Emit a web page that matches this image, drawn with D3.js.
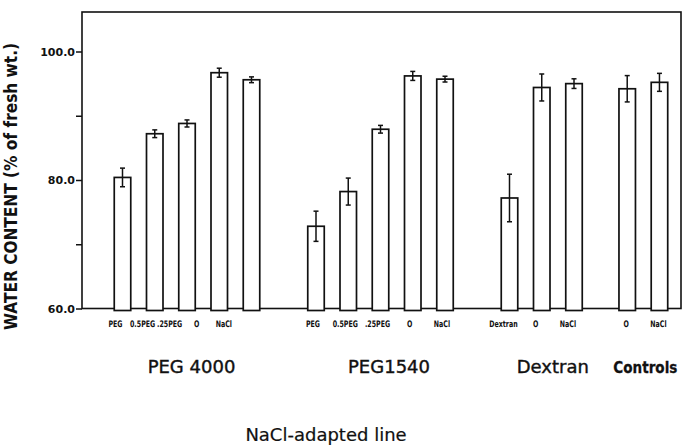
<!DOCTYPE html>
<html>
<head>
<meta charset="utf-8">
<script src="https://cdn.jsdelivr.net/npm/d3@7"></script>
<style>
  body { margin: 0; background: #fff; }
  svg { display: block; }
  text { fill: #111; }
</style>
</head>
<body>
<div id="graph"></div>
<script>
const w = 682;
const h = 445;

// values (water content, % of fresh wt.)
const groups = ["PEG 4000", "PEG1540", "Dextran", "Controls"];
const treatments = ["PEG", "0.5PEG", ".25PEG", "O", "NaCl",
                    "PEG", "0.5PEG", ".25PEG", "O", "NaCl",
                    "Dextran", "O", "NaCl",
                    "O", "NaCl"];
const groupOf = [0, 0, 0, 0, 0, 1, 1, 1, 1, 1, 2, 2, 2, 3, 3];
const values = [80.4, 87.2, 88.8, 96.7, 95.6,
                72.8, 78.2, 87.9, 96.2, 95.7,
                77.2, 94.4, 95.0,
                94.2, 95.2];
const errors = [1.45, 0.6, 0.55, 0.7, 0.45,
                2.35, 2.1, 0.6, 0.7, 0.45,
                3.7, 2.1, 0.75,
                2.05, 1.4];
const yTicks = [60, 70, 80, 90, 100];
const yLabel = "WATER CONTENT (% of fresh wt.)";
const footLabel = "NaCl-adapted line";

// layout
const frame = { left: 82, right: 681, top: 12, bottom: 308.5 };
const groupGap = [0, 1, 2, 2.65];   // extra empty slots before each group
const barW = 16.5;
const labelSqueeze = [0.84, 1, 1, 1];
const labelShift = [-7, -3, -6, -1];
const titleShift = [4.5, 8.5, 11, 2];

const slots = treatments.map((d, i) => i + groupGap[groupOf[i]]);

const x = d3.scaleLinear()
    .domain([0, 1])
    .range([122.5, 154.75]);

const y = d3.scaleLinear()
    .domain([60, 100])
    .range([frame.bottom, 51.5]);

const svg = d3.select("#graph")
    .append("svg")
    .attr("width", w)
    .attr("height", h);

// frame
svg.append("rect")
    .attr("x", frame.left)
    .attr("y", frame.top)
    .attr("width", frame.right - frame.left)
    .attr("height", frame.bottom - frame.top)
    .style("fill", "none")
    .style("stroke", "#111")
    .style("stroke-width", 1.6);

// y axis
const yAxis = d3.axisLeft(y)
    .tickValues(yTicks)
    .tickSize(6)
    .tickPadding(1)
    .tickFormat(d => d % 20 === 0 ? d3.format(".1f")(d) : "");

const gy = svg.append("g")
    .attr("transform", "translate(" + frame.left + ",0)")
    .call(yAxis);

gy.select(".domain").remove();
gy.selectAll(".tick line")
    .style("stroke", "#111")
    .style("stroke-width", 1.5);
gy.selectAll(".tick text")
    .style("font-family", "DejaVu Sans")
    .style("font-weight", "bold")
    .style("font-size", "11px")
    .attr("dy", "0.36em");

svg.append("text")
    .attr("transform", "translate(17,186.5) rotate(-90)")
    .attr("text-anchor", "middle")
    .attr("textLength", 287)
    .attr("lengthAdjust", "spacingAndGlyphs")
    .style("font-family", "DejaVu Sans")
    .style("font-weight", "bold")
    .style("font-size", "17px")
    .text(yLabel);

// bars
svg.selectAll("rect.bar")
    .data(values)
    .enter()
    .append("rect")
    .attr("class", "bar")
    .attr("x", (d, i) => x(slots[i]) - barW / 2)
    .attr("y", d => y(d))
    .attr("width", barW)
    .attr("height", d => y(60) - y(d) + 2)
    .style("fill", "#fff")
    .style("stroke", "#111")
    .style("stroke-width", 1.7);

// error bars
const err = svg.selectAll("g.err")
    .data(values)
    .enter()
    .append("g")
    .attr("class", "err")
    .style("stroke", "#111")
    .style("stroke-width", 1.5);

err.append("line")
    .attr("x1", (d, i) => x(slots[i]))
    .attr("x2", (d, i) => x(slots[i]))
    .attr("y1", (d, i) => y(d + errors[i]))
    .attr("y2", (d, i) => y(d - errors[i]));

err.append("line")
    .attr("x1", (d, i) => x(slots[i]) - 2.5)
    .attr("x2", (d, i) => x(slots[i]) + 2.5)
    .attr("y1", (d, i) => y(d + errors[i]))
    .attr("y2", (d, i) => y(d + errors[i]));

err.append("line")
    .attr("x1", (d, i) => x(slots[i]) - 2.5)
    .attr("x2", (d, i) => x(slots[i]) + 2.5)
    .attr("y1", (d, i) => y(d - errors[i]))
    .attr("y2", (d, i) => y(d - errors[i]));

// treatment labels under the bars (narrow bold type)
const groupStart = groups.map((g, gi) => x(slots[groupOf.indexOf(gi)]));

svg.selectAll("text.treat")
    .data(treatments)
    .enter()
    .append("text")
    .attr("class", "treat")
    .attr("transform", (d, i) => {
        let g = groupOf[i];
        let lx = groupStart[g] + (x(slots[i]) - groupStart[g]) * labelSqueeze[g] + labelShift[g];
        return "translate(" + lx + ",327) scale(0.7,1)";
    })
    .attr("text-anchor", "middle")
    .style("font-family", "DejaVu Sans")
    .style("font-weight", "bold")
    .style("font-size", "9px")
    .text(d => d);

// group titles
svg.selectAll("text.group")
    .data(groups)
    .enter()
    .append("text")
    .attr("class", "group")
    .attr("x", (d, gi) => d3.mean(slots.filter((s, i) => groupOf[i] === gi), s => x(s)) + titleShift[gi])
    .attr("y", 373)
    .attr("text-anchor", "middle")
    .attr("textLength", (d, gi) => gi === 3 ? 64 : null)
    .attr("lengthAdjust", "spacingAndGlyphs")
    .style("font-family", "DejaVu Sans")
    .style("font-weight", (d, gi) => gi === 3 ? "bold" : "normal")
    .style("stroke", "#111")
    .style("stroke-width", (d, gi) => gi === 3 ? 0.3 : 0.4)
    .style("font-size", (d, gi) => gi === 3 ? "16px" : "18px")
    .text(d => d);

svg.append("text")
    .attr("x", 326)
    .attr("y", 440.5)
    .attr("text-anchor", "middle")
    .style("font-family", "DejaVu Sans")
    .style("stroke", "#111")
    .style("stroke-width", 0.2)
    .style("font-size", "18px")
    .text(footLabel);
</script>
</body>
</html>
